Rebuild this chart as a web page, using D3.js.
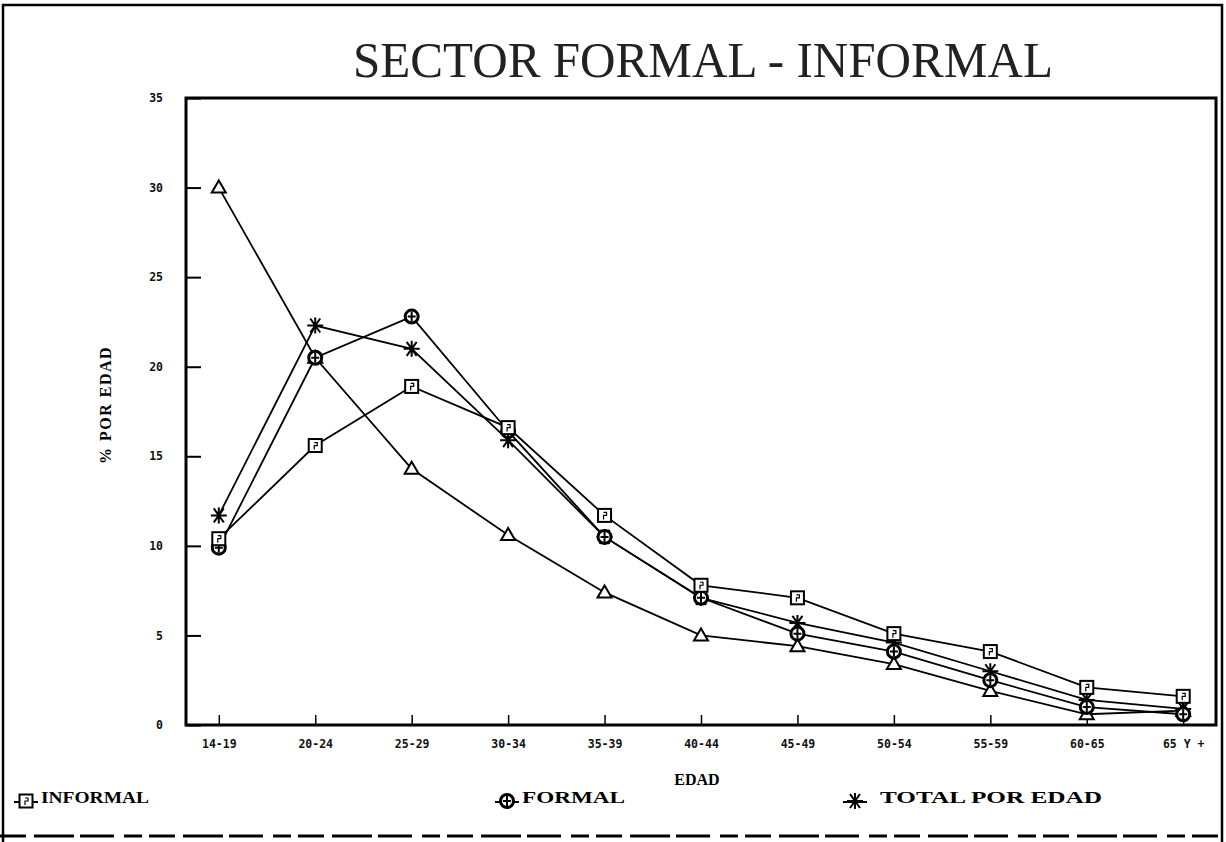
<!DOCTYPE html>
<html>
<head>
<meta charset="utf-8">
<script src="https://cdn.jsdelivr.net/npm/d3@7"></script>
<style>
  body { margin: 0; background: #fff; }
  svg { display: block; }
  .tick text { font-family: "DejaVu Sans Mono", monospace; font-weight: bold; font-size: 11.5px; fill: #111; }
</style>
</head>
<body>
<script>
// categories (age groups)
const edades = ["14-19", "20-24", "25-29", "30-34", "35-39", "40-44", "45-49", "50-54", "55-59", "60-65", "65 Y +"];

// % por edad
const informal = [10.4, 15.6, 18.9, 16.6, 11.7, 7.8, 7.1, 5.1, 4.1, 2.1, 1.6];
const formal = [9.9, 20.5, 22.8, 16.4, 10.5, 7.1, 5.1, 4.1, 2.5, 1.0, 0.6];
const totalPorEdad = [11.7, 22.3, 21.0, 15.9, 10.5, 7.1, 5.7, 4.6, 3.0, 1.4, 0.9];
const triangulos = [30.0, 20.5, 14.3, 10.6, 7.4, 5.0, 4.4, 3.4, 1.9, 0.6, 0.8];

const yTicks = [0, 5, 10, 15, 20, 25, 30, 35];

const W = 1226, H = 842;
const plot = { left: 186, right: 1216, top: 98, bottom: 725 };

const svg = d3.select("body").append("svg")
    .attr("width", W)
    .attr("height", H);

// outer frame
svg.append("path")
    .attr("d", `M3,${H} L3,5 L${W - 4},5 L${W - 4},${H}`)
    .attr("fill", "none")
    .attr("stroke", "#000")
    .attr("stroke-width", 2.5);

// bottom cut-off dashed row
svg.append("line")
    .attr("x1", 0).attr("x2", W)
    .attr("y1", 836).attr("y2", 836)
    .attr("stroke", "#000")
    .attr("stroke-width", 3)
    .attr("stroke-dasharray", "26,8,40,6,34,10,18,7");

// title
svg.append("text")
    .attr("x", 703).attr("y", 77)
    .attr("text-anchor", "middle")
    .attr("font-family", "Liberation Serif, serif")
    .attr("font-size", 50)
    .attr("textLength", 700)
    .attr("lengthAdjust", "spacingAndGlyphs")
    .attr("fill", "#222")
    .text("SECTOR  FORMAL - INFORMAL");

var x = d3.scalePoint()
    .domain(edades)
    .range([plot.left, plot.right])
    .padding(0.34);

var y = d3.scaleLinear()
    .domain([0, 35])
    .range([plot.bottom, plot.top]);

// plot box
svg.append("rect")
    .attr("x", plot.left).attr("y", plot.top)
    .attr("width", plot.right - plot.left)
    .attr("height", plot.bottom - plot.top)
    .attr("fill", "none")
    .attr("stroke", "#000")
    .attr("stroke-width", 3);

// y axis, ticks pointing inside
svg.append("g")
    .attr("transform", "translate(" + plot.left + ",0)")
    .call(d3.axisLeft(y).tickValues(yTicks).tickSizeInner(-15).tickSizeOuter(0).tickPadding(23))
    .call(g => g.select(".domain").remove())
    .call(g => g.selectAll(".tick line").attr("stroke-width", 2));

// x axis
svg.append("g")
    .attr("transform", "translate(0," + plot.bottom + ")")
    .call(d3.axisBottom(x).tickSizeInner(-10).tickSizeOuter(0).tickPadding(15))
    .call(g => g.select(".domain").remove())
    .call(g => g.selectAll(".tick line").attr("stroke-width", 1.5));

// axis titles
svg.append("text")
    .attr("x", 697).attr("y", 785)
    .attr("text-anchor", "middle")
    .attr("font-family", "Liberation Serif, serif")
    .attr("font-weight", "bold")
    .attr("font-size", 16)
    .text("EDAD");

svg.append("text")
    .attr("transform", "translate(111,405) rotate(-90)")
    .attr("text-anchor", "middle")
    .attr("font-family", "Liberation Serif, serif")
    .attr("font-weight", "bold")
    .attr("font-size", 16)
    .attr("letter-spacing", 1.5)
    .text("% POR EDAD");

// marker drawing
const star = (g) => {
    g.append("path")
        .attr("d", "M-8,0H8M-5,-7L5,7M5,-7L-5,7M0,-8V8")
        .attr("stroke", "#000").attr("stroke-width", 2).attr("fill", "none");
};
const square = (g) => {
    g.append("rect").attr("x", -6.5).attr("y", -6.5).attr("width", 13).attr("height", 13)
        .attr("fill", "#fff").attr("stroke", "#000").attr("stroke-width", 2);
    g.append("path").attr("d", "M-1,-3H2V0H-1V4").attr("stroke", "#000").attr("stroke-width", 1.2).attr("fill", "none");
};
const circle = (g) => {
    g.append("circle").attr("r", 6.5).attr("fill", "#fff").attr("stroke", "#000").attr("stroke-width", 3);
    g.append("path").attr("d", "M-4,0H4M0,-5V5").attr("stroke", "#000").attr("stroke-width", 2);
};
const triangle = (g) => {
    g.append("path").attr("d", "M0,-7L7,5H-7Z")
        .attr("fill", "#fff").attr("stroke", "#000").attr("stroke-width", 2);
};

const series = [
    { name: "triangulos", values: triangulos, mark: triangle },
    { name: "TOTAL POR EDAD", values: totalPorEdad, mark: star },
    { name: "FORMAL", values: formal, mark: circle },
    { name: "INFORMAL", values: informal, mark: square }
];

const line = d3.line()
    .x((d, i) => x(edades[i]))
    .y(d => y(d));

series.forEach(s => {
    svg.append("path")
        .datum(s.values)
        .attr("d", line)
        .attr("fill", "none")
        .attr("stroke", "#000")
        .attr("stroke-width", 1.8);
});

series.forEach(s => {
    s.values.forEach((v, i) => {
        let g = svg.append("g").attr("transform", "translate(" + x(edades[i]) + "," + y(v) + ")");
        s.mark(g);
    });
});

// legend
const legend = [
    { name: "INFORMAL", mark: square, x: 26, tx: 41, len: 108 },
    { name: "FORMAL", mark: circle, x: 507, tx: 522, len: 103 },
    { name: "TOTAL POR EDAD", mark: star, x: 855, tx: 880, len: 222 }
];

legend.forEach(l => {
    svg.append("line")
        .attr("x1", l.x - 12).attr("x2", l.x + 12)
        .attr("y1", 802).attr("y2", 802)
        .attr("stroke", "#000").attr("stroke-width", 2);
    let g = svg.append("g").attr("transform", "translate(" + l.x + ",801)");
    l.mark(g);
    svg.append("text")
        .attr("x", l.tx).attr("y", 803)
        .attr("font-family", "Liberation Serif, serif")
        .attr("font-weight", "bold")
        .attr("font-size", 17)
        .attr("textLength", l.len)
        .attr("lengthAdjust", "spacingAndGlyphs")
        .text(l.name);
});
</script>
</body>
</html>
